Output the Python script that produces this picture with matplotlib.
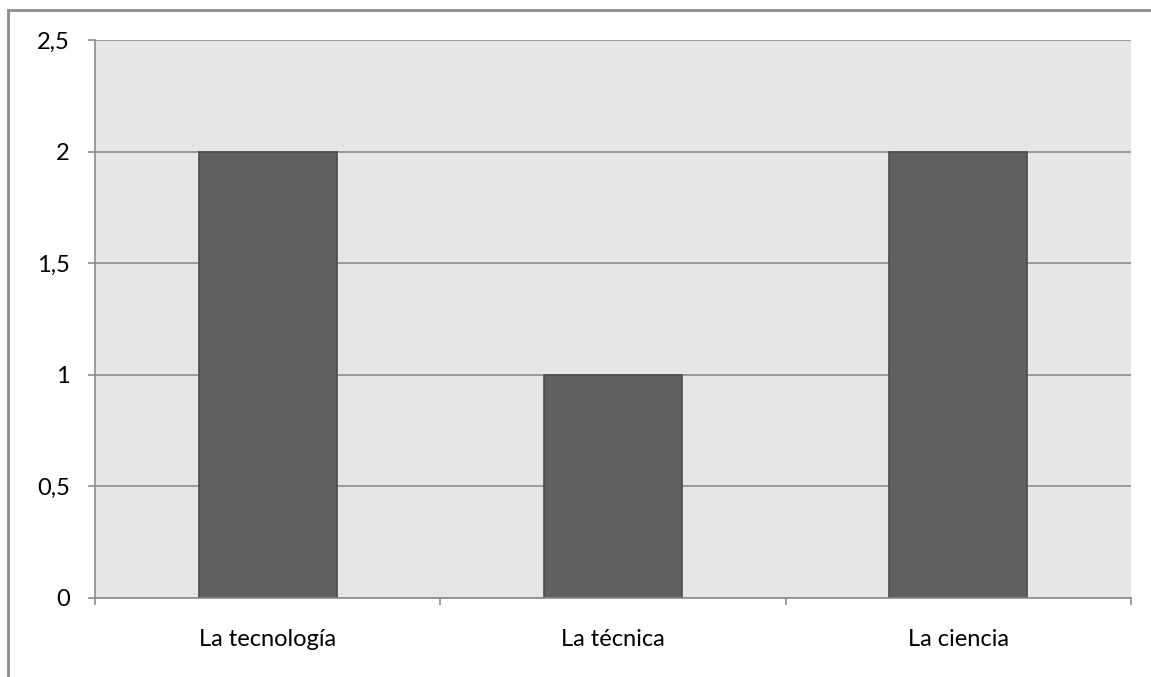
import numpy as np
import matplotlib.pyplot as plt
from matplotlib.patches import Rectangle
from matplotlib.ticker import FuncFormatter, FixedLocator

categories = ['La tecnología', 'La técnica', 'La ciencia']
values = [2, 1, 2]
yticks = [0, 0.5, 1, 1.5, 2, 2.5]

plt.rcParams['font.family'] = ['Lato', 'DejaVu Sans']

W, H = 1151, 677
fig = plt.figure(figsize=(W / 100, H / 100), dpi=100)
ax = fig.add_axes([95 / W, 1 - 598 / H, (1131 - 95) / W, (598 - 40) / H])

# outer chart border (only left and top edges fall inside the picture)
fig.patches.append(Rectangle((8 / W, -0.1), 1.2, 1 - 10 / H + 0.1,
                             transform=fig.transFigure, fill=False,
                             edgecolor='#8c8c8c', linewidth=2))

ax.set_facecolor('#e6e6e6')
x = np.arange(len(categories))
ax.bar(x, values, width=0.4, color='#606060', edgecolor='#4a4a4a',
       linewidth=1.2, zorder=3)

ax.set_xlim(-0.5, len(categories) - 0.5)
ax.set_ylim(0, 2.5)
ax.set_yticks(yticks)
ax.yaxis.set_major_formatter(FuncFormatter(
    lambda v, p: ('%g' % v).replace('.', ',')))
ax.grid(axis='y', color='#8c8c8c', linewidth=1.2, zorder=1)

ax.set_xticks(x)
ax.set_xticklabels(categories)
ax.xaxis.set_minor_locator(FixedLocator(np.arange(-0.5, len(categories), 1)))
ax.tick_params(axis='x', which='major', length=0, pad=22, labelsize=17)
ax.tick_params(axis='x', which='minor', length=5, width=1.2, color='#8c8c8c')
ax.tick_params(axis='y', length=5, width=1.2, color='#8c8c8c', pad=13,
               labelsize=17)

for s in ['top', 'right']:
    ax.spines[s].set_visible(False)
for s in ['left', 'bottom']:
    ax.spines[s].set_color('#8c8c8c')
    ax.spines[s].set_linewidth(1.2)
ax.spines['bottom'].set_zorder(4)

fig.savefig('out.png', dpi=100)
